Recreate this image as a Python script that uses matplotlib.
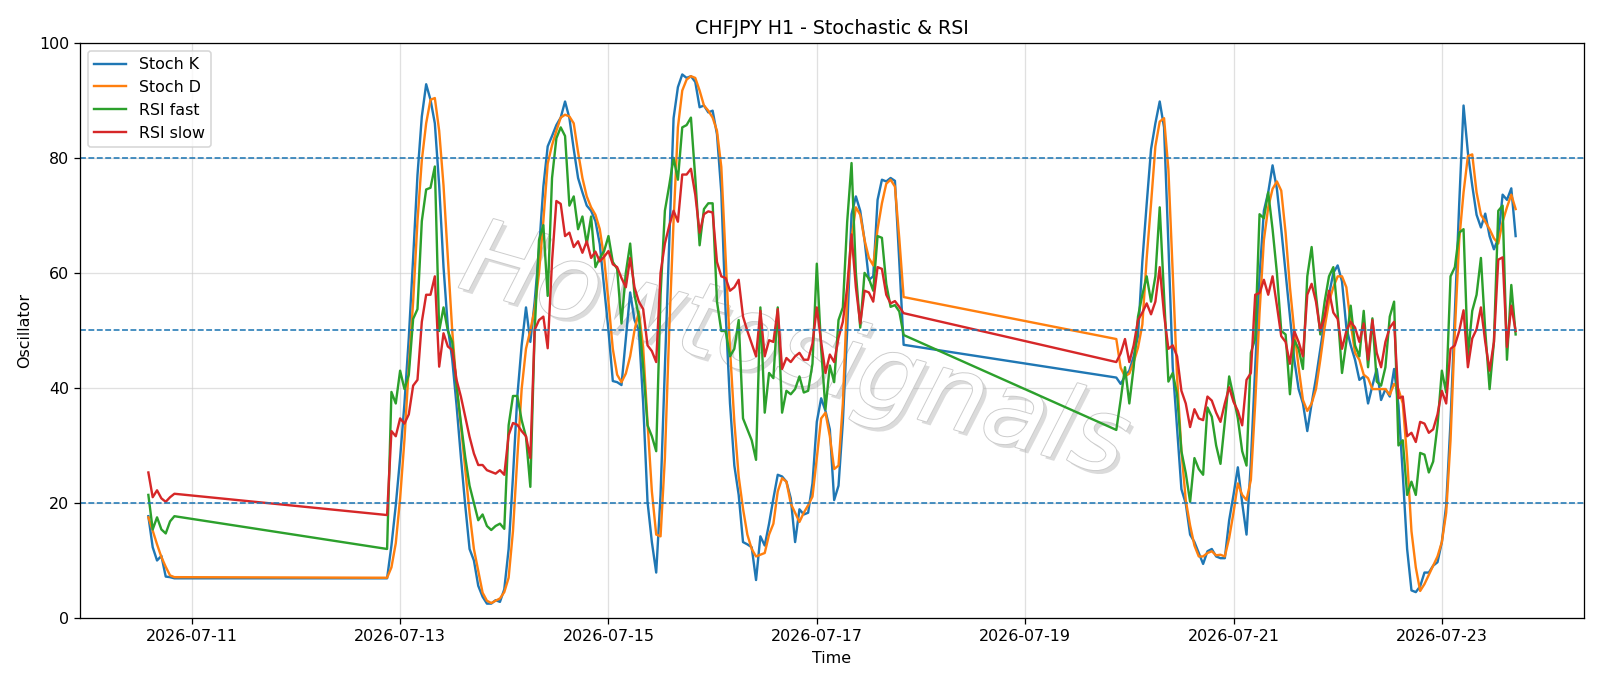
#!/usr/bin/env python3

import numpy as np
import pandas as pd
import matplotlib
matplotlib.use("Agg")
import matplotlib.pyplot as plt
import matplotlib.dates as mdates
import matplotlib.patheffects as pe

# hourly bars, three sessions (weekend gaps in between)
seg_starts = ['2026-07-10 14:00', '2026-07-12 21:00', '2026-07-19 21:00']

stoch_k_a = [17.7, 12.3, 10.0, 10.8, 7.2, 7.1, 6.9]
stoch_d_a = [17.5, 15.2, 12.8, 10.6, 8.9, 7.4, 7.1]
rsi_fast_a = [21.4, 15.4, 17.5, 15.4, 14.7, 16.8, 17.7]
rsi_slow_a = [25.3, 21.0, 22.2, 20.8, 20.2, 21.0, 21.6]

stoch_k_b = [6.9, 12.6, 19.6, 27.8, 37.3, 48.7, 62.6, 77.0, 87.2, 92.8,
             90.1, 86.0, 75.2, 61.0, 50.5, 45.0, 37.0, 28.0, 19.6, 12.0,
             10.0, 5.6, 3.7, 2.5, 2.5, 3.1, 2.8, 5.0, 12.0, 24.6,
             38.5, 47.4, 54.0, 48.0, 55.0, 64.0, 75.0, 82.0, 83.8, 85.7,
             87.0, 89.8, 86.9, 81.5, 76.5, 74.0, 71.7, 70.8, 69.0, 65.0,
             57.5, 50.0, 41.2, 41.0, 40.5, 48.6, 56.6, 51.8, 50.0, 37.3,
             20.2, 13.2, 7.9, 21.4, 43.6, 65.0, 86.9, 92.3, 94.5, 93.9,
             94.2, 93.2, 88.8, 89.1, 87.9, 88.2, 84.1, 74.0, 53.0, 37.3,
             26.5, 21.4, 13.2, 12.8, 12.3, 6.6, 14.2, 12.6, 16.4, 20.8,
             24.9, 24.6, 23.7, 20.8, 13.2, 18.9, 18.0, 18.3, 23.4, 34.1,
             38.2, 36.0, 32.8, 20.5, 23.0, 34.1, 50.0, 70.2, 73.3, 70.8,
             65.7, 58.8, 59.4, 72.7, 76.2, 75.9, 76.5, 76.0, 62.0, 47.5]
stoch_d_b = [7.0, 8.8, 13.0, 20.8, 31.0, 43.6, 55.0, 69.0, 79.6, 86.0,
             90.1, 90.4, 84.7, 75.2, 62.6, 50.0, 40.4, 33.5, 25.9, 18.3,
             12.0, 8.2, 4.4, 3.0, 2.6, 3.0, 3.4, 4.5, 7.0, 15.1,
             27.8, 39.8, 46.8, 50.0, 53.7, 60.0, 69.0, 79.0, 82.2, 84.7,
             87.0, 87.5, 87.2, 86.0, 81.0, 76.5, 73.3, 71.4, 70.1, 67.6,
             62.6, 55.0, 46.8, 42.3, 41.0, 42.5, 45.5, 50.0, 53.3, 47.0,
             34.0, 22.0, 14.5, 14.2, 27.8, 50.0, 69.0, 85.3, 91.7, 93.6,
             94.2, 93.9, 91.7, 89.1, 88.2, 87.0, 84.7, 78.4, 62.6, 46.8,
             34.1, 24.6, 19.0, 14.5, 12.0, 10.7, 11.0, 11.3, 14.5, 16.4,
             22.0, 24.3, 23.7, 19.9, 18.3, 16.7, 18.3, 19.6, 21.1, 27.8,
             34.7, 35.7, 31.6, 25.9, 26.5, 37.3, 56.2, 66.0, 71.4, 70.1,
             65.7, 62.6, 61.3, 67.6, 72.1, 75.5, 76.2, 75.0, 66.0, 55.8]
rsi_fast_b = [12.0, 39.3, 37.3, 43.0, 39.8, 42.3, 52.0, 53.7, 69.0, 74.5,
              74.8, 78.5, 49.9, 54.0, 49.9, 48.0, 40.4, 34.0, 28.0, 23.0,
              20.0, 17.0, 18.0, 16.0, 15.3, 16.0, 16.4, 15.5, 33.5, 38.6,
              38.6, 34.4, 31.5, 22.8, 50.0, 65.7, 68.3, 56.0, 76.5, 83.4,
              85.3, 83.8, 71.7, 73.3, 67.6, 69.8, 65.0, 69.8, 61.0, 62.6,
              63.8, 66.4, 61.9, 60.7, 51.2, 60.0, 65.1, 56.2, 52.4, 43.6,
              33.5, 31.6, 29.0, 56.2, 70.8, 75.2, 80.0, 76.2, 85.3, 85.7,
              87.0, 76.5, 64.8, 71.1, 72.1, 72.1, 55.0, 49.9, 49.9, 45.5,
              46.8, 51.8, 34.7, 32.8, 30.9, 27.5, 54.0, 35.7, 42.6, 41.7,
              54.0, 35.7, 39.5, 38.9, 39.8, 42.0, 39.2, 39.5, 44.2, 61.6,
              46.8, 36.3, 43.9, 41.0, 51.8, 54.0, 68.9, 79.1, 60.0, 50.5,
              60.0, 59.0, 56.9, 66.4, 66.1, 58.1, 54.1, 54.4, 53.3, 49.2]
rsi_slow_b = [17.9, 32.5, 31.6, 34.7, 33.8, 35.4, 40.4, 41.4, 51.5, 56.2,
              56.2, 59.4, 43.7, 49.5, 47.2, 46.6, 41.4, 38.5, 35.0, 31.5,
              28.6, 26.6, 26.6, 25.7, 25.4, 25.1, 25.7, 24.9, 31.8, 33.9,
              33.6, 32.5, 31.6, 27.8, 50.1, 51.8, 52.4, 46.9, 62.0, 72.5,
              72.0, 66.4, 67.0, 64.5, 65.5, 63.5, 65.5, 62.6, 63.7, 62.0,
              62.8, 63.8, 61.5, 61.0, 59.1, 57.5, 62.6, 57.5, 55.0, 53.7,
              47.4, 46.4, 44.5, 60.0, 65.1, 68.2, 70.8, 68.9, 77.1, 77.1,
              78.1, 73.6, 67.0, 70.2, 70.7, 70.5, 61.9, 59.4, 59.1, 56.9,
              57.5, 58.8, 52.4, 49.9, 47.7, 45.5, 53.4, 45.5, 48.3, 48.0,
              53.7, 43.3, 45.2, 44.5, 45.5, 46.1, 44.9, 44.9, 47.7, 54.0,
              48.0, 42.6, 45.8, 44.5, 48.7, 51.5, 57.5, 66.7, 57.5, 51.2,
              56.9, 56.6, 55.0, 61.0, 60.7, 56.2, 54.7, 55.1, 54.1, 53.0]

stoch_k_c = [41.8, 40.7, 42.0, 43.0, 45.5, 49.0, 62.0, 72.0, 81.5, 86.0,
             89.8, 85.3, 65.0, 43.6, 33.0, 22.4, 19.9, 14.5, 13.2, 11.3,
             9.4, 11.6, 12.0, 10.7, 10.4, 10.4, 17.0, 21.4, 26.2, 20.0,
             14.5, 27.1, 43.6, 59.4, 70.8, 74.0, 78.7, 74.6, 67.6, 60.0,
             52.4, 44.9, 39.8, 37.3, 32.5, 37.3, 41.7, 46.8, 51.8, 56.2,
             60.0, 61.3, 58.5, 50.5, 47.4, 44.9, 41.4, 42.0, 37.3, 40.4,
             43.3, 37.9, 39.8, 38.5, 43.3, 37.0, 25.0, 12.0, 4.8, 4.5,
             5.5, 7.9, 7.9, 9.1, 9.7, 13.2, 19.6, 34.1, 53.1, 72.0,
             89.1, 80.9, 75.2, 70.1, 67.9, 70.3, 66.4, 64.1, 66.0, 73.6,
             72.7, 74.7, 66.4]
stoch_d_c = [48.5, 43.5, 42.0, 42.5, 44.5, 47.0, 51.0, 62.6, 72.0, 82.0,
             86.3, 86.9, 78.0, 60.0, 42.0, 29.0, 20.5, 16.1, 12.6, 10.7,
             10.7, 11.3, 11.6, 10.9, 11.0, 10.7, 13.9, 18.3, 23.4, 21.4,
             20.5, 24.0, 37.3, 53.1, 65.7, 71.4, 74.6, 75.9, 74.3, 67.0,
             57.5, 49.9, 43.6, 37.9, 36.0, 37.3, 39.8, 44.9, 50.5, 55.0,
             57.5, 59.4, 59.4, 57.5, 51.2, 46.1, 44.9, 42.3, 41.7, 39.8,
             39.8, 39.8, 39.8, 38.8, 40.7, 39.8, 37.3, 27.8, 15.1, 8.8,
             4.7, 5.9, 7.5, 9.1, 10.7, 13.2, 18.3, 30.9, 49.9, 65.7,
             74.0, 80.3, 80.6, 74.0, 70.1, 68.9, 67.6, 66.0, 65.1, 68.9,
             71.4, 73.6, 71.1]
rsi_fast_c = [32.7, 37.9, 43.6, 37.3, 43.6, 52.4, 56.2, 59.4, 55.0, 59.4,
              71.4, 56.0, 41.1, 42.6, 38.9, 29.0, 25.2, 20.2, 27.8, 25.9,
              24.9, 36.6, 35.0, 30.0, 26.8, 34.1, 42.0, 38.5, 34.7, 29.0,
              26.5, 46.1, 48.6, 70.2, 69.5, 74.0, 67.6, 60.0, 49.9, 49.3,
              38.9, 48.3, 46.8, 43.3, 59.4, 64.5, 56.2, 49.3, 55.0, 59.4,
              61.0, 53.0, 42.6, 48.0, 54.3, 47.4, 45.5, 53.4, 43.6, 52.1,
              41.1, 40.4, 43.6, 52.4, 55.0, 30.0, 30.9, 21.4, 23.7, 21.4,
              28.7, 28.4, 25.3, 27.2, 33.5, 43.0, 39.2, 59.4, 61.0, 67.0,
              67.6, 45.5, 53.4, 56.2, 62.6, 49.9, 39.8, 48.0, 70.8, 71.7,
              44.9, 57.9, 49.3]
rsi_slow_c = [44.5, 46.0, 48.5, 44.5, 47.4, 51.8, 53.1, 54.7, 52.8, 55.0,
              61.0, 52.8, 46.8, 47.4, 45.5, 39.5, 37.3, 33.2, 36.3, 34.7,
              34.4, 38.5, 37.8, 35.7, 34.1, 37.3, 40.1, 37.6, 36.0, 33.5,
              41.4, 42.6, 56.2, 56.5, 58.8, 56.2, 59.4, 54.3, 49.0, 48.0,
              44.2, 49.9, 48.0, 45.5, 56.2, 58.1, 55.0, 49.9, 52.4, 56.9,
              53.1, 52.0, 46.8, 49.9, 51.5, 50.5, 48.0, 51.2, 44.9, 51.8,
              46.1, 43.6, 48.0, 50.5, 51.5, 38.2, 38.5, 31.6, 32.2, 30.6,
              34.1, 33.8, 32.2, 32.8, 35.4, 39.5, 37.3, 46.8, 47.4, 49.9,
              53.5, 43.6, 48.6, 50.2, 54.0, 48.0, 43.0, 48.0, 62.3, 62.7,
              47.1, 54.3, 49.9]

levels = [20, 50, 80]

times = pd.DatetimeIndex(np.concatenate([
    pd.date_range(seg_starts[0], periods=len(stoch_k_a), freq='h').values,
    pd.date_range(seg_starts[1], periods=len(stoch_k_b), freq='h').values,
    pd.date_range(seg_starts[2], periods=len(stoch_k_c), freq='h').values,
]))
stoch_k = stoch_k_a + stoch_k_b + stoch_k_c
stoch_d = stoch_d_a + stoch_d_b + stoch_d_c
rsi_fast = rsi_fast_a + rsi_fast_b + rsi_fast_c
rsi_slow = rsi_slow_a + rsi_slow_b + rsi_slow_c

DPI = 1600 / 14
fig = plt.figure(figsize=(14, 686.2 / DPI), dpi=DPI)
ax = fig.add_axes([0.05, 0.0991, 0.94, 0.8382])

ax.plot(times, stoch_k, label="Stoch K", color="tab:blue", linewidth=1.5)
ax.plot(times, stoch_d, label="Stoch D", color="tab:orange", linewidth=1.5)
ax.plot(times, rsi_fast, label="RSI fast", color="tab:green", linewidth=1.5)
ax.plot(times, rsi_slow, label="RSI slow", color="tab:red", linewidth=1.5)

for lv in levels:
    ax.axhline(lv, color="tab:blue", linestyle="--", linewidth=1.0)

ax.set_ylim(0, 100)
ax.set_title("CHFJPY H1 - Stochastic & RSI")
ax.set_xlabel("Time")
ax.set_ylabel("Oscillator")
ax.xaxis.set_major_locator(mdates.DayLocator(bymonthday=range(1, 32, 2)))
ax.xaxis.set_major_formatter(mdates.DateFormatter('%Y-%m-%d'))
ax.grid(True, color="#cccccc", alpha=0.6, linewidth=0.8)
ax.set_axisbelow(True)
ax.legend(loc="upper left")

# watermark
ax.text(0.475, 0.46, "Howtosignals", transform=ax.transAxes, fontsize=65,
        style="italic", color="white", rotation=-16, ha="center", va="center",
        zorder=1,
        path_effects=[pe.SimplePatchShadow(offset=(2.5, -2.5), shadow_rgbFace="0.6", alpha=0.35),
                      pe.Stroke(linewidth=1.2, foreground="0.8"),
                      pe.Normal()])

fig.savefig("out.png", dpi=DPI)
